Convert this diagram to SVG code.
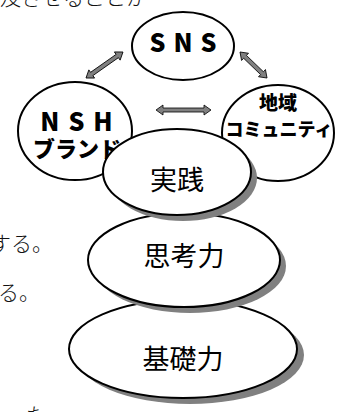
<svg xmlns="http://www.w3.org/2000/svg" width="338" height="412" viewBox="0 0 338 412">
<style>
.n{fill:#fff;stroke:#000;stroke-width:2}
.sh{fill:#808080}
.b{font-family:"Noto Sans CJK JP","Liberation Sans",sans-serif;font-weight:900;fill:#000;text-anchor:middle}
.r{font-family:"Noto Sans CJK JP",sans-serif;fill:#000;text-anchor:middle}
.bg{font-family:"Noto Sans CJK JP",sans-serif;font-weight:300;fill:#111;font-size:21px}
.ar{fill:#808080;stroke:#000;stroke-width:0.8}
</style>
<rect width="338" height="412" fill="#fff"/>
<text class="bg" x="0" y="5">及させることか</text>
<text class="bg" x="-10" y="251">する。</text>
<text class="bg" x="-2" y="300">る。</text>
<text class="bg" x="26" y="423">た</text>
<g id="kiso">
<ellipse class="sh" cx="190" cy="355" rx="114" ry="49"/>
<ellipse class="n" cx="183" cy="349" rx="114" ry="49"/>
<text class="r" x="183" y="369" font-size="27">基礎力</text>
</g>
<g id="shikou">
<ellipse class="sh" cx="190" cy="266" rx="96" ry="47"/>
<ellipse class="n" cx="184" cy="260" rx="96" ry="47"/>
<text class="r" x="184" y="266" font-size="27">思考力</text>
</g>
<g id="nsh">
<ellipse class="n" cx="75" cy="131" rx="57" ry="49"/>
<text class="b" x="81" y="131" font-size="25" letter-spacing="9">NSH</text>
<text class="b" x="77" y="157" font-size="22">ブランド</text>
</g>
<g id="chiiki">
<ellipse class="n" cx="278" cy="133" rx="56" ry="48"/>
<text class="b" x="278" y="110" font-size="19">地域</text>
<text class="b" x="279" y="136" font-size="18">コミュニティ</text>
</g>
<g id="jissen">
<ellipse class="sh" cx="183" cy="178" rx="74" ry="43"/>
<ellipse class="n" cx="177" cy="172" rx="74" ry="43"/>
<text class="r" x="177" y="190" font-size="27">実践</text>
</g>
<g id="sns">
<ellipse class="n" cx="183" cy="46" rx="51" ry="34"/>
<text class="b" x="187" y="52" font-size="25" letter-spacing="8">SNS</text>
</g>
<g id="connectors">
<polygon class="ar" transform="translate(86,78) rotate(-35.1)" points="0,0 7,-5 7,-2 38.2,-2 38.2,-5 45.2,0 38.2,5 38.2,2 7,2 7,5"/>
<polygon class="ar" transform="translate(240,52) rotate(43.9)" points="0,0 7,-5 7,-2 30.5,-2 30.5,-5 37.5,0 30.5,5 30.5,2 7,2 7,5"/>
<polygon class="ar" transform="translate(156,110)" points="0,0 7,-5 7,-2 48,-2 48,-5 55,0 48,5 48,2 7,2 7,5"/>
</g>
</svg>
